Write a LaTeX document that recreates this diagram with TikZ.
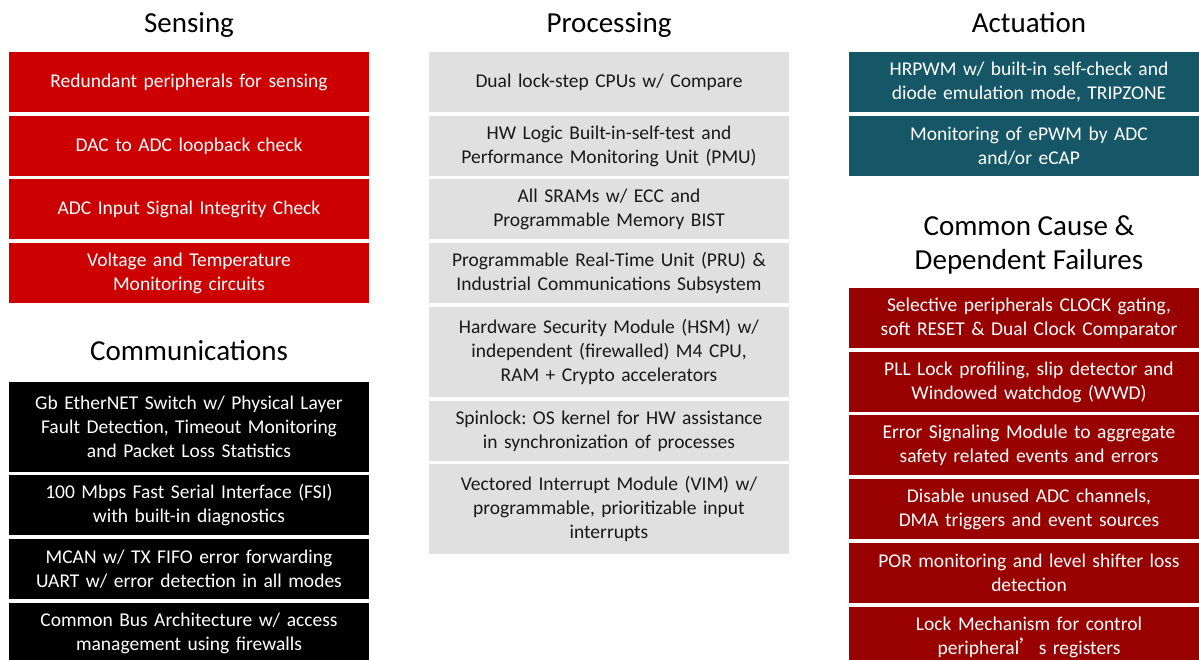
\documentclass[tikz,border=0pt]{standalone}
\usepackage{fontspec}
\setmainfont{Carlito}
\newfontfamily\cjk{Noto Sans CJK SC}
\frenchspacing
\definecolor{sensred}{HTML}{CC0000}
\definecolor{procgray}{HTML}{E0E0E0}
\definecolor{actteal}{HTML}{165767}
\definecolor{ccfred}{HTML}{990000}
\tikzset{
  item/.style={minimum width=360pt, minimum height=60pt, inner sep=0pt, text width=352pt, align=center, font=\fontsize{19.5}{24}\selectfont},
  tall/.style={minimum height=90pt},
  sens/.style={item, fill=sensred, text=white},
  comm/.style={item, fill=black, text=white},
  proc/.style={item, fill=procgray, text=black!90},
  act/.style={item, fill=actteal, text=white},
  ccf/.style={item, fill=ccfred, text=white},
  head/.style={anchor=base, align=center, font=\fontsize{29}{34}\selectfont}
}
\begin{document}
\begin{tikzpicture}[x=1pt,y=-1pt]
\useasboundingbox (0,0) rectangle (1199,659);
\clip (0,0) rectangle (1199,659);

\node[head] (sensing) at (189,32) {Sensing};
\node[sens] (sens1) at (189,82) {Redundant peripherals for sensing};
\node[sens] (sens2) at (189,146) {DAC to ADC loopback check};
\node[sens] (sens3) at (189,209) {ADC Input Signal Integrity Check};
\node[sens] (sens4) at (189,273) {Voltage and Temperature\\Monitoring circuits};

\node[head] (communications) at (189,360) {Communications};
\node[comm,tall] (comm1) at (189,427) {Gb EtherNET Switch w/ Physical Layer\\Fault Detection, Timeout Monitoring\\and Packet Loss Statistics};
\node[comm] (comm2) at (189,505) {100 Mbps Fast Serial Interface (FSI)\\with built-in diagnostics};
\node[comm] (comm3) at (189,569) {MCAN w/ TX FIFO error forwarding\\UART w/ error detection in all modes};
\node[comm] (comm4) at (189,633) {Common Bus Architecture w/ access\\management using firewalls};

\node[head] (processing) at (609,32) {Processing};
\node[proc] (proc1) at (609,82) {Dual lock-step CPUs w/ Compare};
\node[proc] (proc2) at (609,146) {HW Logic Built-in-self-test and\\Performance Monitoring Unit (PMU)};
\node[proc] (proc3) at (609,209) {All SRAMs w/ ECC and\\Programmable Memory BIST};
\node[proc] (proc4) at (609,273) {Programmable Real-Time Unit (PRU) \&\\Industrial Communications Subsystem};
\node[proc,tall] (proc5) at (609,352) {Hardware Security Module (HSM) w/\\independent (firewalled) M4 CPU,\\RAM + Crypto accelerators};
\node[proc] (proc6) at (609,431) {Spinlock: OS kernel for HW assistance\\in synchronization of processes};
\node[proc,tall] (proc7) at (609,509) {Vectored Interrupt Module (VIM) w/\\programmable, prioritizable input\\interrupts};

\node[head] (actuation) at (1029,32) {Actuation};
\node[act] (act1) at (1029,82) {HRPWM w/ built-in self-check and\\diode emulation mode, TRIPZONE};
\node[act] (act2) at (1029,146) {Monitoring of ePWM by ADC\\and/or eCAP};

\node[head] (ccf) at (1029,269) {Common Cause \&\\Dependent Failures};
\node[ccf] (ccf1) at (1029,318) {Selective peripherals CLOCK gating,\\soft RESET \& Dual Clock Comparator};
\node[ccf] (ccf2) at (1029,382) {PLL Lock profiling, slip detector and\\Windowed watchdog (WWD)};
\node[ccf] (ccf3) at (1029,445) {Error Signaling Module to aggregate\\safety related events and errors};
\node[ccf] (ccf4) at (1029,509) {Disable unused ADC channels,\\DMA triggers and event sources};
\node[ccf] (ccf5) at (1029,573) {POR monitoring and level shifter loss\\detection};
\node[ccf] (ccf6) at (1029,637) {Lock Mechanism for control\\peripheral{\cjk ’}s registers};
\end{tikzpicture}
\end{document}
